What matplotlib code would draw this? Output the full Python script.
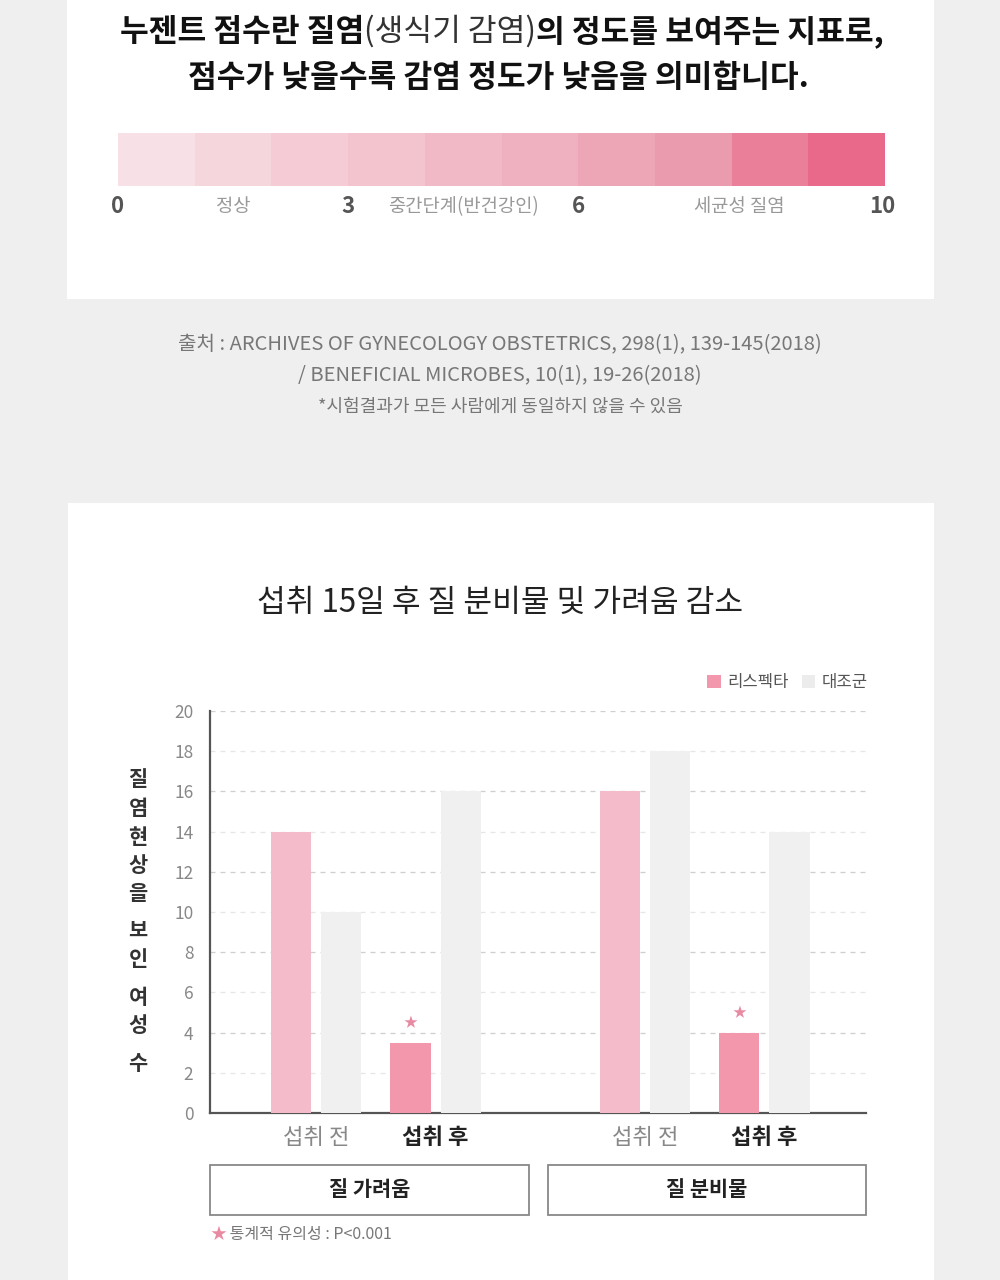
import numpy as np
import matplotlib
matplotlib.use("Agg")
import matplotlib.pyplot as plt
from matplotlib.patches import Rectangle, Patch

plt.rcParams['font.family'] = ['Noto Sans CJK KR', 'DejaVu Sans']

# ── data ──
scale_scores = list(range(10))
scale_colors = ["#f8e1e6", "#f6d6dd", "#f5ccd6", "#f3c3ce", "#f1b9c6",
                "#efb0bf", "#eca6b6", "#ea9bae", "#e97f98", "#e8698a"]
scale_ticks = [0, 3, 6, 10]
scale_zones = [(1.5, "정상"), (4.5, "중간단계(반건강인)"), (8.1, "세균성 질염")]

chart_title = "섭취 15일 후 질 분비물 및 가려움 감소"
series_names = ["리스펙타", "대조군"]
groups = ["질 가려움", "질 분비물"]
phases = ["섭취 전", "섭취 후", "섭취 전", "섭취 후"]
respecta = [14, 3.5, 16, 4]
control = [10, 16, 18, 14]
significant = [False, True, False, True]
y_ticks = [0, 2, 4, 6, 8, 10, 12, 14, 16, 18, 20]
y_label = "질염현상을 보인 여성 수"

BG = "#efefef"
PINK_PRE = "#f4bccb"
PINK_POST = "#f397ad"
GRAY_BAR = "#f0f0f0"

fig = plt.figure(figsize=(10, 12.8), dpi=100)
fig.patch.set_facecolor(BG)

# full-figure axes in pixel coordinates for cards and free text
bg = fig.add_axes([0, 0, 1, 1])
bg.set_xlim(0, 1000)
bg.set_ylim(1280, 0)
bg.axis("off")
bg.add_patch(Rectangle((67, -5), 867, 304, facecolor="white", edgecolor="none"))
bg.add_patch(Rectangle((68, 503), 866, 790, facecolor="white", edgecolor="none"))

# ── top explanation ──
t1 = bg.text(120, 32, "누젠트 점수란 질염", fontsize=22.5, color="#111",
             ha="left", va="center", fontweight="bold")
t2 = bg.annotate("(생식기 감염)", xy=(1, 0), xycoords=t1, va="bottom",
                 fontsize=22.5, color="#333", fontweight="regular")
bg.annotate("의 정도를 보여주는 지표로,", xy=(1, 0), xycoords=t2, va="bottom",
            fontsize=22.5, color="#111", fontweight="bold")
bg.text(498, 78, "점수가 낮을수록 감염 정도가 낮음을 의미합니다.", fontsize=22.5,
        color="#111", ha="center", va="center", fontweight="bold")

# ── nugent scale bar ──
ax_s = fig.add_axes([118 / 1000, 1 - 186 / 1280, 767 / 1000, 53 / 1280])
ax_s.bar([s + 0.5 for s in scale_scores], 1, width=1.0, color=scale_colors,
         linewidth=0)
ax_s.set_xlim(0, 10)
ax_s.set_ylim(0, 1)
ax_s.axis("off")
for t in scale_ticks:
    ax_s.text(t if t < 10 else 9.97, -0.38, str(t), ha="center", va="center",
              fontsize=16, color="#555", fontweight="bold")
for x, lab in scale_zones:
    ax_s.text(x, -0.38, lab, ha="center", va="center", fontsize=13.5,
              color="#999", fontweight="light")

# ── source ──
bg.text(500, 345, "출처 : ARCHIVES OF GYNECOLOGY OBSTETRICS, 298(1), 139-145(2018)",
        ha="center", va="center", fontsize=14.5, color="#777", fontweight="light")
bg.text(500, 376, "/ BENEFICIAL MICROBES, 10(1), 19-26(2018)",
        ha="center", va="center", fontsize=14.5, color="#777", fontweight="light")
bg.text(500, 407, "*시험결과가 모든 사람에게 동일하지 않을 수 있음",
        ha="center", va="center", fontsize=13, color="#777", fontweight="light")

# ── bar chart ──
bg.text(500, 603, chart_title, ha="center", va="center", fontsize=22.5,
        color="#222", fontweight="medium")

ax = fig.add_axes([0.21, 1 - 1113 / 1280, 0.656, 402 / 1280])
x = np.array([0, 1, 2.75, 3.75])
w = 0.335
off = 0.21
pink_cols = [PINK_POST if s else PINK_PRE for s in significant]
ax.bar(x - off, respecta, width=w, color=pink_cols, zorder=3, linewidth=0)
ax.bar(x + off, control, width=w, color=GRAY_BAR, zorder=3, linewidth=0)
for xi, v, s in zip(x, respecta, significant):
    if s:
        ax.text(xi - off, v + 0.95, "★", ha="center", va="center",
                fontsize=10, color="#e98aa3", zorder=4)

for t in y_ticks[1:]:
    ax.axhline(t, color="#cfcfcf" if t % 4 == 0 else "#e6e6e6", lw=0.9,
               ls=(0, (4, 4)), zorder=1)

ax.set_xlim(-0.887, 4.6)
ax.set_ylim(0, 20)
ax.set_yticks(y_ticks)
ax.set_yticklabels([str(t) for t in y_ticks], fontsize=12.5, color="#888",
                   fontweight="light")
ax.tick_params(axis="y", length=0, pad=12)
ax.set_xticks(x)
ax.set_xticklabels(phases, fontsize=16)
ax.tick_params(axis="x", length=0, pad=9)
for lab, s in zip(ax.get_xticklabels(), significant):
    if s:
        lab.set_fontweight("bold")
        lab.set_color("#222")
    else:
        lab.set_color("#888")
        lab.set_fontweight("light")
for sp in ["top", "right"]:
    ax.spines[sp].set_visible(False)
for sp in ["left", "bottom"]:
    ax.spines[sp].set_color("#555")
    ax.spines[sp].set_linewidth(1.6)
ax.set_facecolor("none")

handles = [Patch(facecolor=PINK_POST, edgecolor="none"),
           Patch(facecolor="#ececec", edgecolor="none")]
ax.legend(handles, series_names, ncol=2, frameon=False, loc="center right",
          bbox_to_anchor=(1.016, (1113 - 683) / 402), fontsize=12,
          handlelength=0.8, handleheight=0.8, handletextpad=0.4,
          columnspacing=0.8, borderpad=0, labelcolor="#555")

# vertical y label, one character per line
yy = 780
for ch in y_label:
    if ch == " ":
        yy += 9
        continue
    bg.text(138, yy, ch, ha="center", va="center", fontsize=15,
            fontweight="bold", color="#333")
    yy += 28.5

# group boxes
for (x0, x1), g in zip([(210, 529), (548, 866)], groups):
    bg.add_patch(Rectangle((x0, 1165), x1 - x0, 50, facecolor="white",
                           edgecolor="#888", lw=1.3))
    bg.text((x0 + x1) / 2, 1190, g, ha="center", va="center", fontsize=15,
            fontweight="bold", color="#222")

star = bg.text(210, 1234, "★", ha="left", va="center", fontsize=11.5,
               color="#e98aa3")
bg.annotate(" 통계적 유의성 : P<0.001", xy=(1, 0.5), xycoords=star,
            va="center", fontsize=11.5, color="#777", fontweight="light")

plt.savefig("out.png", dpi=100, facecolor=BG)
